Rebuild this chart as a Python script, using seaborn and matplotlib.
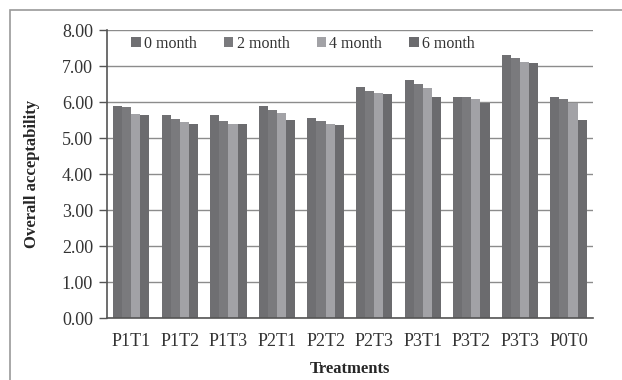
import pandas as pd
import matplotlib.pyplot as plt
import seaborn as sns
from matplotlib.patches import Rectangle

# Chart values
treatments = ['P1T1', 'P1T2', 'P1T3', 'P2T1', 'P2T2', 'P2T3', 'P3T1', 'P3T2', 'P3T3', 'P0T0']
months = ['0 month', '2 month', '4 month', '6 month']
m0 = [5.88, 5.65, 5.65, 5.88, 5.55, 6.42, 6.62, 6.15, 7.30, 6.15]
m2 = [5.85, 5.52, 5.48, 5.78, 5.48, 6.32, 6.50, 6.15, 7.22, 6.08]
m4 = [5.68, 5.45, 5.40, 5.70, 5.40, 6.25, 6.38, 6.08, 7.12, 5.98]
m6 = [5.65, 5.38, 5.40, 5.50, 5.35, 6.22, 6.15, 5.98, 7.08, 5.50]

rows = []
for name, vals in zip(months, [m0, m2, m4, m6]):
    for t, v in zip(treatments, vals):
        rows.append({'Treatments': t, 'Month': name, 'Value': v})
data = pd.DataFrame(rows)

sns.set_theme(style="white")
plt.rcParams['font.family'] = ['Liberation Serif', 'DejaVu Serif']

palette = ['#6f6f72', '#7a7a7d', '#a2a2a6', '#6b6b6e']

fig = plt.figure(figsize=(6.22, 3.8), dpi=100)
ax = fig.add_axes([0.172, 0.163, 0.781, 0.758])

# grey frame around the chart, running off the right and bottom edges
fig.patches.append(Rectangle((0.016, -0.1), 1.2, 1.074, transform=fig.transFigure,
                             fill=False, edgecolor='#9a9a9a', linewidth=1.2))

sns.barplot(data=data, x='Treatments', y='Value', hue='Month', palette=palette,
            width=0.75, gap=0, saturation=1, linewidth=0, ax=ax, zorder=2)

ax.set_ylim(0, 8)
ax.set_yticks([0, 1, 2, 3, 4, 5, 6, 7, 8])
ax.set_yticklabels([f'{v:.2f}' for v in range(9)])
ax.set_xlim(-0.5, len(treatments) - 0.5)
ax.yaxis.grid(True, color='#8c8c8c', linewidth=1.0, zorder=0)
ax.set_axisbelow(True)

for s in ['top', 'right']:
    ax.spines[s].set_visible(False)
ax.spines['left'].set_color('#555555')
ax.spines['bottom'].set_color('#555555')
ax.spines['left'].set_linewidth(1.2)
ax.spines['bottom'].set_linewidth(1.2)

ax.tick_params(axis='y', which='major', left=True, length=6, width=1, color='#555555',
               labelsize=13, labelcolor='#333333', pad=4)
ax.tick_params(axis='x', bottom=False, labelsize=13, labelcolor='#333333', pad=5)

ax.set_xlabel('Treatments', fontsize=12, fontweight='bold', labelpad=8)
ax.set_ylabel('Overall acceptability', fontsize=12, fontweight='bold', labelpad=16)

leg = ax.legend(loc='upper left', bbox_to_anchor=(0.02, 1.03), ncol=4, frameon=False,
                fontsize=11.5, handlelength=0.6, handleheight=0.6, handletextpad=0.2,
                columnspacing=1.7)
for txt in leg.get_texts():
    txt.set_color('#333333')

plt.savefig('out.png', dpi=100)
